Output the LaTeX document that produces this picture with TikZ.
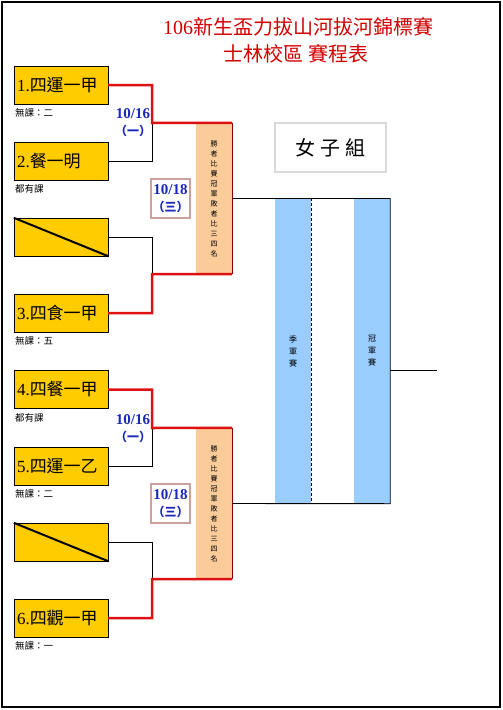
\documentclass[tikz,border=0pt]{standalone}
\usepackage{fontspec}
\setmainfont{Liberation Serif}
\newfontfamily\cjk{Noto Sans CJK TC}
\usetikzlibrary{positioning}
\definecolor{teamyellow}{RGB}{255,204,0}
\definecolor{winred}{RGB}{221,17,17}
\definecolor{peach}{RGB}{251,203,154}
\definecolor{barblue}{RGB}{153,204,255}
\definecolor{dateblue}{RGB}{25,40,185}
\definecolor{titlered}{RGB}{210,0,0}
\definecolor{dateframe}{RGB}{205,160,160}

\begin{document}
\begin{tikzpicture}[x=1pt,y=-1pt,
  team/.style={draw,fill=teamyellow,minimum width=94pt,minimum height=38pt,
    text width=88pt,align=left,inner xsep=3pt,inner ysep=0pt,
    font=\fontsize{17}{17}\selectfont},
  bye/.style={draw,fill=teamyellow,minimum width=94pt,minimum height=38pt,inner sep=0pt},
  note/.style={anchor=west,inner sep=1pt,font=\cjk\fontsize{9.5}{10}\selectfont},
  date/.style={align=center,text=dateblue,inner sep=1pt,
    font=\bfseries\fontsize{15}{17}\selectfont},
  datebox/.style={date,draw=dateframe,line width=1.5pt,minimum width=39pt,minimum height=39pt},
  semi/.style={fill=peach,minimum width=36pt,minimum height=151pt,inner sep=0pt,
    align=center,font=\cjk\fontsize{7}{10}\selectfont},
  bar/.style={fill=barblue,minimum width=36pt,minimum height=305pt,inner sep=0pt,
    align=center,font=\cjk\fontsize{8}{12}\selectfont},
  win/.style={winred,line width=2.5pt},
  lose/.style={black,line width=0.9pt},
  title/.style={text=titlered,inner sep=0pt,font=\fontsize{20}{20}\selectfont}]
\useasboundingbox (0,0) rectangle (503,710);
\draw[line width=1.6pt] (2,2) rectangle (500,707);

% titles
\node[title] (h1) at (298,27) {106{\cjk 新生盃力拔山河拔河錦標賽}};
\node[title] (h2) at (296,54) {{\cjk 士林校區 賽程表}};
\node[draw=gray!30,line width=1.5pt,minimum width=111pt,minimum height=49pt,
  font=\cjk\fontsize{20}{20}\selectfont] (grp) at (330.5,147.5) {女\hspace{5pt}子\hspace{5pt}組};

% teams
\node[team] (t1) at (61,85) {1.{\cjk 四運一甲}};
\node[team] (t2) at (61,161.5) {2.{\cjk 餐一明}};
\node[bye]  (b1) at (61,237) {};
\node[team] (t3) at (61,313) {3.{\cjk 四食一甲}};
\node[team] (t4) at (61,389.5) {4.{\cjk 四餐一甲}};
\node[team] (t5) at (61,466) {5.{\cjk 四運一乙}};
\node[bye]  (b2) at (61,542) {};
\node[team] (t6) at (61,618) {6.{\cjk 四觀一甲}};
\draw[line width=2pt] (b1.north west) -- (b1.south east);
\draw[line width=2pt] (b2.north west) -- (b2.south east);

\node[note] (n1) at (14,113) {無課：二};
\node[note] (n2) at (14,189) {都有課};
\node[note] (n3) at (14,341) {無課：五};
\node[note] (n4) at (14,418) {都有課};
\node[note] (n5) at (14,494) {無課：二};
\node[note] (n6) at (14,646) {無課：一};

% semifinals
\node[semi] (s1) at (214,198.5) {勝\\者\\比\\賽\\冠\\軍\\敗\\者\\比\\三\\四\\名};
\node[semi] (s2) at (214,503.5) {勝\\者\\比\\賽\\冠\\軍\\敗\\者\\比\\三\\四\\名};
\draw[red!55!black,line width=1.2pt] (s1.north east) -- (s1.south east);
\draw[red!55!black,line width=1.2pt] (s2.north east) -- (s2.south east);

\node[date] (d1) at (133,122.5) {10/16\\{\cjk\fontsize{12}{12}\selectfont （一）}};
\node[date] (d3) at (133,428.5) {10/16\\{\cjk\fontsize{12}{12}\selectfont （一）}};
\node[datebox] (d2) at (170.5,198.5) {10/18\\{\cjk\fontsize{12}{12}\selectfont （三）}};
\node[datebox] (d4) at (170.5,503.5) {10/18\\{\cjk\fontsize{12}{12}\selectfont （三）}};

% first round
\coordinate (m1) at (152,123);
\coordinate (m2) at (152,274);
\coordinate (m3) at (152,428);
\coordinate (m4) at (152,579);
\draw[lose] (t2.east) -| (m1);
\draw[lose] (b1.east) -| (m2);
\draw[lose] (t5.east) -| (m3);
\draw[lose] (b2.east) -| (m4);
\draw[win] (t1.east) -| (m1) -- (s1.north east);
\draw[win] (t3.east) -| (m2) -- (s1.south east);
\draw[win] (t4.east) -| (m3) -- (s2.north east);
\draw[win] (t6.east) -| (m4) -- (s2.south east);

% finals
\node[bar] (q3) at (293,351) {季\\軍\\賽};
\node[bar] (q1) at (372,351) {冠\\軍\\賽};
\draw[densely dashed,line width=0.8pt] (q3.north east) -- (q3.south east);
\draw[lose] (s1.east) -| (q1.south east) -- (s2.east);
\coordinate (out) at (437,370);
\draw[lose] (q1.east |- out) -- (out);
\end{tikzpicture}
\end{document}
